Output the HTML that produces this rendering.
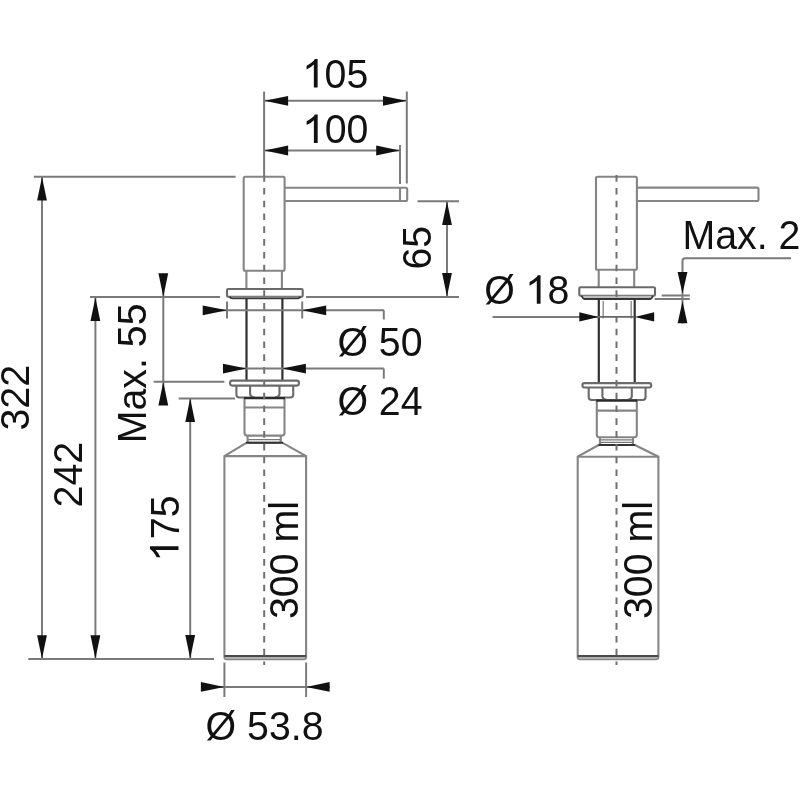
<!DOCTYPE html>
<html><head><meta charset="utf-8"><style>
html,body{margin:0;padding:0;background:#fff;}
svg{display:block;will-change:transform;}
text{font-family:"Liberation Sans",sans-serif;fill:#111;}
</style></head><body>
<svg width="800" height="800" viewBox="0 0 800 800">
<rect width="800" height="800" fill="#fff"/>
<rect x="243.7" y="176.8" width="40.9" height="94" rx="1.5" fill="none" stroke="#858585" stroke-width="2.1"/>
<path d="M284.6,187.8 H405.7 Q407.2,187.8 407.2,189.3 V199.5 Q407.2,201 405.7,201 H284.6" fill="none" stroke="#858585" stroke-width="2.1" />
<line x1="400" y1="187.8" x2="400" y2="201" stroke="#858585" stroke-width="2.1" />
<line x1="246.4" y1="270.8" x2="246.4" y2="289" stroke="#858585" stroke-width="2.1" />
<line x1="281.9" y1="270.8" x2="281.9" y2="289" stroke="#858585" stroke-width="2.1" />
<rect x="227" y="289" width="75.7" height="7.75" rx="1.2" fill="none" stroke="#6a6a6a" stroke-width="2.1"/>
<path d="M229.5,296.75 Q230.5,298.3 232,298.3 H298 Q299.5,298.3 300.5,296.75" fill="#bdbdbd" stroke="#3a3a3a" stroke-width="1.8" />
<line x1="246.5" y1="298.3" x2="246.5" y2="380.6" stroke="#303030" stroke-width="2.2" />
<line x1="282.4" y1="298.3" x2="282.4" y2="380.6" stroke="#303030" stroke-width="2.2" />
<rect x="230.1" y="380.6" width="68.8" height="5" rx="2" fill="none" stroke="#6a6a6a" stroke-width="2.1"/>
<path d="M236.4,385.6 V394.5 Q236.4,397.5 239.4,397.5 H290.25 Q293.25,397.5 293.25,394.5 V385.6" fill="none" stroke="#6a6a6a" stroke-width="2.1" />
<path d="M250.1,385.6 V394.0 Q250.6,397.2 254.5,397.2 M279.5,385.6 V394.0 Q279,397.2 275.1,397.2" fill="none" stroke="#6a6a6a" stroke-width="2.1" />
<path d="M244.5,397.5 V433.1 Q244.5,435.6 247,435.6 H282 Q284.5,435.6 284.5,433.1 V397.5" fill="none" stroke="#858585" stroke-width="2.1" />
<line x1="244" y1="398.1" x2="285" y2="398.1" stroke="#2a2a2a" stroke-width="2.2" />
<line x1="244.5" y1="407.5" x2="284.5" y2="407.5" stroke="#858585" stroke-width="2.1" />
<path d="M247.6,435.6 V440.8 Q247.6,442.8 249.6,442.8 H278.75 Q280.75,442.8 280.75,440.8 V435.6" fill="none" stroke="#858585" stroke-width="2.1" />
<line x1="248.3" y1="439.6" x2="280.2" y2="439.6" stroke="#777" stroke-width="1.1" />
<path d="M246.4,442.8 L224.4,456.1 V656.7 Q224.4,659.2 226.9,659.2 H303.6 Q306.1,659.2 306.1,656.7 V456.1 L282.6,442.8" fill="none" stroke="#858585" stroke-width="2.1" />
<line x1="246" y1="442.8" x2="283" y2="442.8" stroke="#333" stroke-width="1.9" />
<line x1="224.4" y1="456.1" x2="306.1" y2="456.1" stroke="#858585" stroke-width="2.1" />
<rect x="225.4" y="656.6" width="79.7" height="2.2" fill="#b0b0b0"/>
<line x1="224.4" y1="656" x2="306.1" y2="656" stroke="#4a4a4a" stroke-width="1.9" />
<line x1="264.2" y1="175.1" x2="264.2" y2="665" stroke="#707070" stroke-width="2" stroke-dasharray="6.6 6.2"/>
<line x1="264.1" y1="91.6" x2="264.1" y2="176.8" stroke="#7a7a7a" stroke-width="2.0" />
<line x1="406.8" y1="91.5" x2="406.8" y2="183.5" stroke="#7a7a7a" stroke-width="2.0" />
<line x1="264.1" y1="100.8" x2="406.8" y2="100.8" stroke="#7a7a7a" stroke-width="2.0" />
<polygon points="264.6,100.8 288.1,95.9 288.1,105.7" fill="#111"/>
<polygon points="406.5,100.8 383,95.9 383,105.7" fill="#111"/>
<g transform="translate(302.75,87.5) scale(1,1.04)"><path d="M775 0V1430H630Q545 1265 200 1092V908Q445 1010 578 1150V0Z" transform="translate(0,0) scale(0.01919,-0.01919)" fill="#111"/><text x="21.86" y="0" font-size="39.3">05</text></g>
<line x1="400" y1="145" x2="400" y2="184" stroke="#7a7a7a" stroke-width="2.0" />
<line x1="264.1" y1="150.5" x2="400" y2="150.5" stroke="#7a7a7a" stroke-width="2.0" />
<polygon points="264.6,150.5 288.1,145.6 288.1,155.4" fill="#111"/>
<polygon points="399.7,150.5 376.2,145.6 376.2,155.4" fill="#111"/>
<g transform="translate(302.8,143.1) scale(1,1.04)"><path d="M775 0V1430H630Q545 1265 200 1092V908Q445 1010 578 1150V0Z" transform="translate(0,0) scale(0.01919,-0.01919)" fill="#111"/><text x="21.86" y="0" font-size="39.3">00</text></g>
<line x1="417.5" y1="201.2" x2="459" y2="201.2" stroke="#7a7a7a" stroke-width="2.0" />
<line x1="306" y1="296.9" x2="459" y2="296.9" stroke="#7a7a7a" stroke-width="2.0" />
<line x1="447" y1="201.2" x2="447" y2="296.9" stroke="#7a7a7a" stroke-width="2.0" />
<polygon points="447,201.5 442.1,225 451.9,225" fill="#111"/>
<polygon points="447,296.6 442.1,273.1 451.9,273.1" fill="#111"/>
<g transform="translate(431.35,269.5) rotate(-90) scale(1,1.04)"><text x="0" y="0" font-size="39.3">65</text></g>
<line x1="33.8" y1="176.75" x2="235.6" y2="176.75" stroke="#7a7a7a" stroke-width="2.0" />
<line x1="42" y1="176.75" x2="42" y2="659" stroke="#7a7a7a" stroke-width="2.0" />
<polygon points="42,177 37.1,200.5 46.9,200.5" fill="#111"/>
<polygon points="42,658.7 37.1,635.2 46.9,635.2" fill="#111"/>
<g transform="translate(29,430.5) rotate(-90) scale(1,1.04)"><text x="0" y="0" font-size="39.3">322</text></g>
<line x1="90" y1="297.1" x2="220" y2="297.1" stroke="#7a7a7a" stroke-width="2.0" />
<line x1="95.4" y1="297.1" x2="95.4" y2="659" stroke="#7a7a7a" stroke-width="2.0" />
<polygon points="95.4,297.4 90.5,320.9 100.3,320.9" fill="#111"/>
<polygon points="95.4,658.7 90.5,635.2 100.3,635.2" fill="#111"/>
<g transform="translate(81.6,507.4) rotate(-90) scale(1,1.04)"><text x="0" y="0" font-size="39.3">242</text></g>
<line x1="28.3" y1="659" x2="214" y2="659" stroke="#7a7a7a" stroke-width="2.0" />
<line x1="163.3" y1="273.5" x2="163.3" y2="405" stroke="#7a7a7a" stroke-width="2.0" />
<polygon points="163.3,296.8 158.4,273.3 168.2,273.3" fill="#111"/>
<polygon points="163.3,382 158.4,405.5 168.2,405.5" fill="#111"/>
<line x1="153.7" y1="381.8" x2="224.4" y2="381.8" stroke="#7a7a7a" stroke-width="2.0" />
<g transform="translate(145.6,443.2) rotate(-90) scale(1,1.04)"><text x="0" y="0" font-size="39.3">Max. 55</text></g>
<line x1="178.7" y1="398.4" x2="235" y2="398.4" stroke="#7a7a7a" stroke-width="2.0" />
<line x1="190.2" y1="398.4" x2="190.2" y2="659" stroke="#7a7a7a" stroke-width="2.0" />
<polygon points="190.2,398.6 185.3,422.1 195.1,422.1" fill="#111"/>
<polygon points="190.2,658.5 185.3,635 195.1,635" fill="#111"/>
<g transform="translate(178.5,561) rotate(-90) scale(1,1.04)"><path d="M775 0V1430H630Q545 1265 200 1092V908Q445 1010 578 1150V0Z" transform="translate(0,0) scale(0.01919,-0.01919)" fill="#111"/><text x="21.86" y="0" font-size="39.3">75</text></g>
<g transform="translate(298.4,619) rotate(-90) scale(1,1.04)"><text x="0" y="0" font-size="39.3">300 ml</text></g>
<line x1="227" y1="301.5" x2="227" y2="318.5" stroke="#7a7a7a" stroke-width="2.0" />
<line x1="302.2" y1="301.5" x2="302.2" y2="318.5" stroke="#7a7a7a" stroke-width="2.0" />
<line x1="203" y1="310.3" x2="384" y2="310.3" stroke="#7a7a7a" stroke-width="2.0" />
<line x1="383.8" y1="310.3" x2="383.8" y2="319.5" stroke="#7a7a7a" stroke-width="2.0" />
<polygon points="227,310.3 202.7,305.4 202.7,315.2" fill="#111"/>
<polygon points="302.2,310.3 326.2,305.4 326.2,315.2" fill="#111"/>
<g transform="translate(337.4,355.9) scale(1,1.04)"><text x="0" y="0" font-size="39.3">Ø 50</text></g>
<line x1="222.8" y1="368.6" x2="383.8" y2="368.6" stroke="#7a7a7a" stroke-width="2.0" />
<line x1="383.8" y1="368.6" x2="383.8" y2="378.6" stroke="#7a7a7a" stroke-width="2.0" />
<polygon points="246.5,368.6 223,363.7 223,373.5" fill="#111"/>
<polygon points="282.4,368.6 305.9,363.7 305.9,373.5" fill="#111"/>
<g transform="translate(337.4,415) scale(1,1.04)"><text x="0" y="0" font-size="39.3">Ø 24</text></g>
<line x1="224.4" y1="662.5" x2="224.4" y2="697" stroke="#7a7a7a" stroke-width="2.0" />
<line x1="306.1" y1="662.5" x2="306.1" y2="697" stroke="#7a7a7a" stroke-width="2.0" />
<line x1="201" y1="686.9" x2="330" y2="686.9" stroke="#7a7a7a" stroke-width="2.0" />
<polygon points="224.4,686.9 200.9,682 200.9,691.8" fill="#111"/>
<polygon points="306.1,686.9 329.6,682 329.6,691.8" fill="#111"/>
<g transform="translate(205.6,739.6) scale(1,1.04)"><text x="0" y="0" font-size="39.3">Ø 53.8</text></g>
<rect x="596" y="176.8" width="40.9" height="93" rx="1.5" fill="none" stroke="#858585" stroke-width="2.1"/>
<path d="M636.9,187.6 H757 Q758.5,187.6 758.5,189.1 V199.5 Q758.5,201 757,201 H636.9" fill="none" stroke="#858585" stroke-width="2.1" />
<line x1="598.7" y1="269.8" x2="598.7" y2="287.3" stroke="#858585" stroke-width="2.1" />
<line x1="634.2" y1="269.8" x2="634.2" y2="287.3" stroke="#858585" stroke-width="2.1" />
<rect x="579.3" y="287.3" width="75.7" height="8.5" rx="1.2" fill="none" stroke="#6a6a6a" stroke-width="2.1"/>
<path d="M581.8,295.8 Q582.8,299 584.3,299 H650.3 Q651.8,299 652.8,295.8" fill="#bdbdbd" stroke="#3a3a3a" stroke-width="1.8" />
<line x1="598.8" y1="299" x2="598.8" y2="383.1" stroke="#303030" stroke-width="2.2" />
<line x1="634.7" y1="299" x2="634.7" y2="383.1" stroke="#303030" stroke-width="2.2" />
<line x1="598.8" y1="299.3" x2="634.7" y2="299.3" stroke="#333" stroke-width="1.6" />
<line x1="603.2" y1="301" x2="603.2" y2="318.5" stroke="#858585" stroke-width="1.3" />
<line x1="631.2" y1="301" x2="631.2" y2="318.5" stroke="#858585" stroke-width="1.3" />
<rect x="582.4" y="383.1" width="68.8" height="4.4" rx="2" fill="none" stroke="#6a6a6a" stroke-width="2.1"/>
<path d="M588.7,387.5 V397 Q588.7,400 591.7,400 H642.55 Q645.55,400 645.55,397 V387.5" fill="none" stroke="#6a6a6a" stroke-width="2.1" />
<path d="M602.4,387.5 V396.5 Q602.9,399.7 606.8,399.7 M631.8,387.5 V396.5 Q631.3,399.7 627.4,399.7" fill="none" stroke="#6a6a6a" stroke-width="2.1" />
<path d="M596.8,400 V434.8 Q596.8,437.3 599.3,437.3 H634.3 Q636.8,437.3 636.8,434.8 V400" fill="none" stroke="#858585" stroke-width="2.1" />
<line x1="596.3" y1="400.6" x2="637.3" y2="400.6" stroke="#2a2a2a" stroke-width="2.2" />
<line x1="596.8" y1="410.6" x2="636.8" y2="410.6" stroke="#858585" stroke-width="2.1" />
<path d="M599.9,437.3 V443 Q599.9,445 601.9,445 H631.05 Q633.05,445 633.05,443 V437.3" fill="none" stroke="#858585" stroke-width="2.1" />
<line x1="600.6" y1="439.9" x2="632.5" y2="439.9" stroke="#777" stroke-width="1.1" />
<line x1="600.6" y1="442.4" x2="632.5" y2="442.4" stroke="#777" stroke-width="1.1" />
<path d="M598.7,445 L577.7,456.7 V656.7 Q577.7,659.2 580.2,659.2 H655.9 Q658.4,659.2 658.4,656.7 V456.7 L634.9,445" fill="none" stroke="#858585" stroke-width="2.1" />
<line x1="598.3" y1="445" x2="635.3" y2="445" stroke="#333" stroke-width="1.9" />
<line x1="577.7" y1="456.7" x2="658.4" y2="456.7" stroke="#858585" stroke-width="2.1" />
<rect x="578.7" y="656.6" width="78.7" height="2.2" fill="#b0b0b0"/>
<line x1="577.7" y1="656" x2="658.4" y2="656" stroke="#4a4a4a" stroke-width="1.9" />
<line x1="616.5" y1="175.1" x2="616.5" y2="665" stroke="#707070" stroke-width="2" stroke-dasharray="6.6 6.2"/>
<g transform="translate(651.7,619) rotate(-90) scale(1,1.04)"><text x="0" y="0" font-size="39.3">300 ml</text></g>
<path d="M682.5,323.5 V261 Q682.5,258.3 685.2,258.3 H791" fill="none" stroke="#7a7a7a" stroke-width="2.0" />
<polygon points="682.5,293.6 677.6,272.1 687.4,272.1" fill="#111"/>
<polygon points="682.5,301.2 677.6,323.2 687.4,323.2" fill="#111"/>
<line x1="661.7" y1="295.5" x2="689.8" y2="295.5" stroke="#7a7a7a" stroke-width="2.0" />
<line x1="654.7" y1="299" x2="689.8" y2="299" stroke="#7a7a7a" stroke-width="2.0" />
<g transform="translate(682.5,248.7) scale(1,1.04)"><text x="0" y="0" font-size="39.3">Max. 2</text></g>
<line x1="492.5" y1="316.9" x2="599" y2="316.9" stroke="#7a7a7a" stroke-width="2.0" />
<line x1="598.8" y1="316.9" x2="634.6" y2="316.9" stroke="#666" stroke-width="1.8" />
<polygon points="598.6,316.9 579.3,312.3 579.3,321.5" fill="#111"/>
<polygon points="634.7,316.9 654.2,312.3 654.2,321.5" fill="#111"/>
<g transform="translate(484.2,303.75) scale(1,1.04)"><text x="0" y="0" font-size="39.3">Ø </text><path d="M775 0V1430H630Q545 1265 200 1092V908Q445 1010 578 1150V0Z" transform="translate(41.49,0) scale(0.01919,-0.01919)" fill="#111"/><text x="63.34" y="0" font-size="39.3">8</text></g>
</svg>
</body></html>
